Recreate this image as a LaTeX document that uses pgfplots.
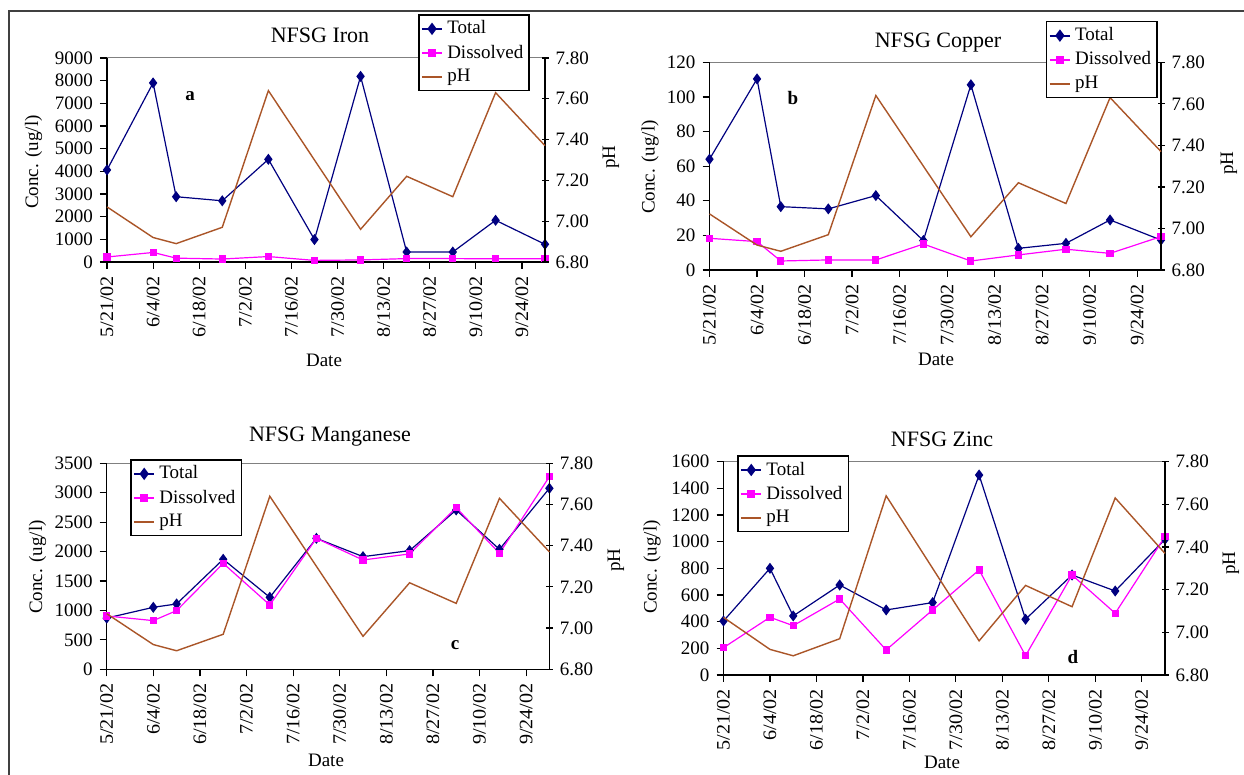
\documentclass[border=0pt]{standalone}
\usepackage{fontspec}
\setmainfont{Liberation Serif}
\newfontfamily\datefont{Liberation Serif}[FakeStretch=1.06]
\usepackage{pgfplots}
\pgfplotsset{compat=1.18}

\definecolor{navy}{RGB}{0,0,128}
\definecolor{mag}{RGB}{255,0,255}
\definecolor{phbrown}{RGB}{170,85,40}

\pgfplotsset{
  totalst/.style={navy, line width=0.6pt, mark=diamond*, mark size=2.3pt, mark options={solid, fill=navy, draw=navy}},
  dissst/.style={mag, line width=0.6pt, mark=square*, mark size=1.5pt, mark options={solid, fill=mag, draw=mag}},
  phst/.style={phbrown, line width=0.7pt, no marks},
  common/.style={scale only axis, xmin=0, xmax=133, clip=false,
     /pgf/number format/assume math mode=true,
     tick label style={font=\fontsize{9.5}{10}\selectfont},
     axis line style={line width=0.6pt, black},
     major tick style={line width=0.6pt, black},
     major tick length=3.5pt,
  },
  leftax/.style={common, axis y line*=left, axis x line*=bottom, tick align=outside,
     xtick={0,14,...,126},
     xticklabels={5/21/02,6/4/02,6/18/02,7/2/02,7/16/02,7/30/02,8/13/02,8/27/02,9/10/02,9/24/02},
     x tick label style={rotate=90, anchor=east, font=\datefont\fontsize{9.5}{10}\selectfont},
     ymin=0, scaled y ticks=false,
     yticklabel style={/pgf/number format/1000 sep={}},
  },
  rightax/.style={common, axis y line*=right, axis x line=none, tick align=center,
     ymin=6.8, ymax=7.8, ytick={6.8,7.0,7.2,7.4,7.6,7.8},
     yticklabel style={/pgf/number format/.cd, fixed, fixed zerofill, precision=2},
     legend style={draw=black, line width=0.8pt, fill=white, font=\fontsize{9.5}{10}\selectfont, inner sep=1pt, row sep=0pt, cells={anchor=west}},
     legend cell align=left,
     legend image code/.code={\draw[line width=1pt, mark repeat=2, mark phase=2] plot coordinates {(0cm,0cm) (0.18cm,0cm) (0.36cm,0cm)};},
  },
}

\begin{document}
\begin{tikzpicture}
\useasboundingbox (0,0) rectangle (622pt,387.5pt);
\fill[white] (0,0) rectangle (622pt,387.5pt);
\draw[line width=1pt, black!75] (4.25pt,0) -- (4.25pt,382pt) -- (622pt,382pt);

% ---------------- Panel a: Iron
\begin{axis}[leftax, at={(53.5pt,256.5pt)}, anchor=south west, width=219pt, height=102pt,
  ymax=9000, ytick={0,1000,...,9000}]
\draw[gray, line width=0.5pt] (rel axis cs:0,1) -- (rel axis cs:1,1);
\addplot[totalst] coordinates {(0,4060) (14,7900) (21,2880) (35,2700) (49,4530) (63,990) (77,8190) (91,440) (105,440) (118,1840) (133,780)};
\addplot[dissst] coordinates {(0,220) (14,420) (21,170) (35,130) (49,240) (63,70) (77,90) (91,150) (105,150) (118,140) (133,140)};
\end{axis}
\begin{axis}[rightax, at={(53.5pt,256.5pt)}, anchor=south west, width=219pt, height=102pt,
  legend style={at={(0.71,1.216)}, anchor=north west}]
\addlegendimage{totalst}\addlegendentry{Total}
\addlegendimage{dissst}\addlegendentry{Dissolved}
\addplot[phst] coordinates {(0,7.07) (14,6.92) (21,6.89) (35,6.97) (49,7.64) (77,6.96) (91,7.22) (105,7.12) (118,7.63) (133,7.37)};
\addlegendentry{pH}
\end{axis}

% ---------------- Panel b: Copper
\begin{axis}[leftax, at={(354.75pt,252.5pt)}, anchor=south west, width=225.75pt, height=103.85pt,
  ymax=120, ytick={0,20,...,120}]
\draw[gray, line width=0.5pt] (rel axis cs:0,1) -- (rel axis cs:1,1);
\addplot[totalst] coordinates {(0,64) (14,110.4) (21,36.6) (35,35.3) (49,43) (63,17) (77,107) (91,12.5) (105,15.4) (118,28.9) (133,17.3)};
\addplot[dissst] coordinates {(0,18.3) (14,16.4) (21,5.2) (35,5.8) (49,5.8) (63,15) (77,5.2) (91,8.7) (105,12) (118,9.6) (133,19.3)};
\end{axis}
\begin{axis}[rightax, at={(354.75pt,252.5pt)}, anchor=south west, width=225.75pt, height=103.85pt,
  legend style={at={(0.745,1.200)}, anchor=north west}]
\addlegendimage{totalst}\addlegendentry{Total}
\addlegendimage{dissst}\addlegendentry{Dissolved}
\addplot[phst] coordinates {(0,7.07) (14,6.92) (21,6.89) (35,6.97) (49,7.64) (77,6.96) (91,7.22) (105,7.12) (118,7.63) (133,7.37)};
\addlegendentry{pH}
\end{axis}

% ---------------- Panel c: Manganese
\begin{axis}[leftax, at={(53.35pt,52.85pt)}, anchor=south west, width=221.35pt, height=103pt,
  ymax=3500, ytick={0,500,...,3500}]
\draw[gray, line width=0.5pt] (rel axis cs:0,1) -- (rel axis cs:1,1);
\addplot[totalst] coordinates {(0,870) (14,1053) (21,1110) (35,1869) (49,1223) (63,2225) (77,1914) (91,2016) (105,2707) (118,2038) (133,3075)};
\addplot[dissst] coordinates {(0,906) (14,827) (21,997) (35,1800) (49,1093) (63,2225) (77,1857) (91,1960) (105,2746) (118,1970) (133,3273)};
\end{axis}
\begin{axis}[rightax, at={(53.35pt,52.85pt)}, anchor=south west, width=221.35pt, height=103pt,
  legend style={at={(0.053,1.021)}, anchor=north west}]
\addlegendimage{totalst}\addlegendentry{Total}
\addlegendimage{dissst}\addlegendentry{Dissolved}
\addplot[phst] coordinates {(0,7.07) (14,6.92) (21,6.89) (35,6.97) (49,7.64) (77,6.96) (91,7.22) (105,7.12) (118,7.63) (133,7.37)};
\addlegendentry{pH}
\end{axis}

% ---------------- Panel d: Zinc
\begin{axis}[leftax, at={(361.75pt,50pt)}, anchor=south west, width=220.75pt, height=106.65pt,
  ymax=1600, ytick={0,200,...,1600}]
\draw[gray, line width=0.5pt] (rel axis cs:0,1) -- (rel axis cs:1,1);
\addplot[totalst] coordinates {(0,405) (14,800) (21,443) (35,675) (49,488) (63,543) (77,1500) (91,418) (105,750) (118,630) (133,1018)};
\addplot[dissst] coordinates {(0,205) (14,433) (21,370) (35,570) (49,188) (63,488) (77,788) (91,145) (105,750) (118,463) (133,1038)};
\end{axis}
\begin{axis}[rightax, at={(361.75pt,50pt)}, anchor=south west, width=220.75pt, height=106.65pt,
  legend style={at={(0.031,1.031)}, anchor=north west}]
\addlegendimage{totalst}\addlegendentry{Total}
\addlegendimage{dissst}\addlegendentry{Dissolved}
\addplot[phst] coordinates {(0,7.07) (14,6.92) (21,6.89) (35,6.97) (49,7.64) (77,6.96) (91,7.22) (105,7.12) (118,7.63) (133,7.37)};
\addlegendentry{pH}
\end{axis}

% ---------------- Text
\tikzset{ttl/.style={font=\fontsize{11}{12}\selectfont},
         lbl/.style={font=\fontsize{9.5}{10}\selectfont},
         ltr/.style={font=\bfseries\fontsize{9.5}{10}\selectfont}}
\node[ttl] at (160pt,370pt) {NFSG Iron};
\node[ttl] at (469pt,366pt) {NFSG Copper};
\node[ttl] at (165pt,169pt) {NFSG Manganese};
\node[ttl] at (471pt,168pt) {NFSG Zinc};

\node[lbl] at (162pt,207.5pt) {Date};
\node[lbl] at (468pt,208pt) {Date};
\node[lbl] at (163pt,7.5pt) {Date};
\node[lbl] at (471pt,6.5pt) {Date};

\node[lbl, rotate=90] at (16.8pt,306.5pt) {Conc. (ug/l)};
\node[lbl, rotate=90] at (325pt,304pt) {Conc. (ug/l)};
\node[lbl, rotate=90] at (18.75pt,104pt) {Conc. (ug/l)};
\node[lbl, rotate=90] at (326pt,104pt) {Conc. (ug/l)};

\node[lbl, rotate=90] at (305.5pt,309pt) {pH};
\node[lbl, rotate=90] at (614.5pt,306pt) {pH};
\node[lbl, rotate=90] at (308pt,107.5pt) {pH};
\node[lbl, rotate=90] at (615.5pt,106pt) {pH};

\node[ltr] at (95pt,339.5pt) {a};
\node[ltr] at (396.5pt,338.5pt) {b};
\node[ltr] at (227.5pt,65pt) {c};
\node[ltr] at (536.5pt,59pt) {d};
\end{tikzpicture}
\end{document}
